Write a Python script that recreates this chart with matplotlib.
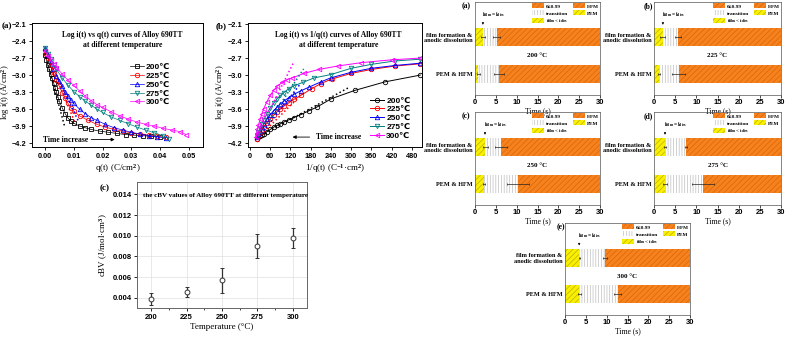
import matplotlib
matplotlib.use('Agg')
import matplotlib.pyplot as plt
from matplotlib.patches import Patch

plt.rcParams['font.family'] = ['Liberation Serif', 'DejaVu Serif']
plt.rcParams['font.weight'] = 'bold'
plt.rcParams['mathtext.fontset'] = 'custom'
plt.rcParams['mathtext.rm'] = 'Liberation Serif:bold'
plt.rcParams['mathtext.it'] = 'Liberation Serif:bold'
plt.rcParams['mathtext.bf'] = 'Liberation Serif:bold'
plt.rcParams['hatch.linewidth'] = 0.45
plt.rcParams['axes.linewidth'] = 0.7

SANS = ['Liberation Sans', 'DejaVu Sans']

# ---- log i(t) vs q(t) ----
q_200 = [0, 0.0005, 0.001, 0.0015, 0.002, 0.0025, 0.003, 0.0035, 0.004, 0.0045, 0.005, 0.006, 0.007,
         0.008, 0.009, 0.010, 0.012, 0.014, 0.016, 0.019, 0.022, 0.025, 0.028, 0.031, 0.034, 0.037, 0.040]
li_200 = [-2.65, -2.73, -2.82, -2.90, -2.98, -3.06, -3.14, -3.22, -3.30, -3.38, -3.46, -3.58, -3.68,
          -3.76, -3.81, -3.85, -3.90, -3.93, -3.96, -3.99, -4.01, -4.03, -4.05, -4.06, -4.07, -4.08, -4.09]
q_225 = [0, 0.0005, 0.001, 0.002, 0.003, 0.004, 0.005, 0.006, 0.007, 0.008, 0.009, 0.010, 0.012,
         0.015, 0.018, 0.021, 0.024, 0.027, 0.030, 0.033, 0.036, 0.039, 0.042]
li_225 = [-2.56, -2.62, -2.69, -2.82, -2.96, -3.09, -3.20, -3.31, -3.41, -3.50, -3.58, -3.64, -3.72,
          -3.80, -3.87, -3.92, -3.96, -3.99, -4.02, -4.04, -4.06, -4.08, -4.10]
q_250 = [0, 0.001, 0.002, 0.003, 0.004, 0.005, 0.006, 0.007, 0.008, 0.009, 0.010, 0.012, 0.014,
         0.016, 0.018, 0.021, 0.024, 0.027, 0.030, 0.033, 0.036, 0.039, 0.042]
li_250 = [-2.52, -2.64, -2.77, -2.90, -3.01, -3.11, -3.20, -3.29, -3.37, -3.44, -3.50, -3.60, -3.68,
          -3.75, -3.80, -3.87, -3.93, -3.97, -4.01, -4.04, -4.07, -4.09, -4.11]
q_275 = [0, 0.001, 0.002, 0.003, 0.004, 0.006, 0.008, 0.010, 0.012, 0.014, 0.016, 0.018, 0.020,
         0.023, 0.026, 0.029, 0.032, 0.035, 0.038, 0.041, 0.043]
li_275 = [-2.52, -2.62, -2.72, -2.82, -2.90, -3.05, -3.18, -3.29, -3.38, -3.46, -3.53, -3.60, -3.66,
          -3.74, -3.80, -3.86, -3.92, -3.97, -4.02, -4.07, -4.12]
q_300 = [0, 0.001, 0.002, 0.003, 0.004, 0.006, 0.008, 0.010, 0.012, 0.014, 0.016, 0.018, 0.020,
         0.023, 0.026, 0.029, 0.032, 0.035, 0.038, 0.041, 0.044, 0.047, 0.049]
li_300 = [-2.57, -2.66, -2.74, -2.81, -2.87, -2.98, -3.09, -3.18, -3.28, -3.37, -3.45, -3.52, -3.57,
          -3.65, -3.72, -3.78, -3.83, -3.87, -3.90, -3.94, -3.97, -4.00, -4.05]
# dotted linear fits of the early part
fitq_x = [[0.0, 0.0068], [0.002, 0.0105], [0.004, 0.0115]]
fitq_y = [[-2.62, -3.90], [-2.80, -3.85], [-3.00, -3.80]]

# ---- log i(t) vs 1/q(t) ----
iq_200 = [20, 25, 30, 35, 40, 50, 60, 70, 80, 90, 100, 115, 130, 150, 175, 200, 240, 311, 400, 505]
lb_200 = [-4.12, -4.10, -4.08, -4.06, -4.04, -4.00, -3.96, -3.92, -3.89, -3.86, -3.83, -3.79, -3.75,
          -3.70, -3.63, -3.56, -3.42, -3.27, -3.12, -3.00]
iq_225 = [20, 25, 30, 35, 40, 50, 60, 70, 80, 90, 100, 115, 130, 150, 183, 210, 242, 300, 360, 430, 505]
lb_225 = [-4.12, -4.07, -4.02, -3.97, -3.92, -3.84, -3.77, -3.71, -3.65, -3.60, -3.55, -3.49, -3.43,
          -3.36, -3.24, -3.15, -3.07, -2.97, -2.90, -2.84, -2.80]
iq_250 = [20, 25, 30, 35, 40, 50, 60, 70, 80, 90, 100, 115, 130, 150, 176, 210, 239, 300, 360, 430, 505]
lb_250 = [-4.10, -4.04, -3.98, -3.92, -3.87, -3.78, -3.70, -3.63, -3.57, -3.51, -3.46, -3.40, -3.34,
          -3.28, -3.21, -3.12, -3.05, -2.95, -2.88, -2.83, -2.79]
iq_275 = [20, 25, 30, 35, 40, 50, 60, 70, 80, 90, 100, 115, 130, 156, 190, 240, 300, 360, 430, 505]
lb_275 = [-4.08, -4.00, -3.93, -3.86, -3.80, -3.68, -3.58, -3.50, -3.42, -3.36, -3.31, -3.24, -3.19,
          -3.13, -3.05, -2.99, -2.88, -2.81, -2.75, -2.72]
iq_300 = [18, 20, 22, 25, 30, 35, 40, 50, 60, 70, 80, 95, 110, 125, 160, 204, 260, 330, 420, 505]
lb_300 = [-4.10, -4.02, -3.95, -3.88, -3.78, -3.69, -3.60, -3.47, -3.36, -3.27, -3.20, -3.13, -3.08,
          -3.05, -2.97, -2.90, -2.84, -2.78, -2.73, -2.70]
fitb_x = [[23, 296], [25, 160], [25, 150], [25, 159], [18, 128]]
fitb_y = [[-4.10, -3.21], [-4.10, -3.30], [-4.10, -3.15], [-4.10, -2.89], [-4.10, -2.79]]

# ---- cBV ----
cbv_temp = [200, 225, 250, 275, 300]
cbv_val = [0.00388, 0.00455, 0.0057, 0.0090, 0.0098]
cbv_err = [0.00058, 0.0005, 0.0012, 0.0012, 0.00095]

# ---- time partition bars (s) ----
bar_panels = ['(a)', '(b)', '(c)', '(d)', '(e)']
bar_temps = ['200 °C', '225 °C', '250 °C', '275 °C', '300 °C']
ff_equal = [1.9, 2.1, 2.4, 2.6, 3.4]        # i_film = i_diss
ff_equal_err = [0.5, 0.6, 0.6, 0.2, 0.15]
ff_theta = [5.2, 5.7, 6.3, 7.6, 9.6]        # theta reaches 0.99
ff_theta_err = [0.8, 0.7, 1.4, 0.3, 0.5]
pem_end = [0.8, 1.1, 2.1, 2.6, 3.4]
pem_end_err = [0.3, 0.2, 0.2, 0.5, 0.4]
hfm_start = [5.7, 5.8, 10.3, 11.5, 12.6]
hfm_start_err = [1.2, 1.5, 2.7, 2.6, 0.9]

temps = ['200℃', '225℃', '250℃', '275℃', '300℃']
line_colors = ['black', 'red', 'blue', '#008080', 'magenta']
markers = ['s', 'o', '^', 'v', '<']

ORANGE, ORANGE_H = '#F5821F', '#D86400'
YELLOW, YELLOW_H = '#F8F000', '#B8A800'
TRANS_H = '#B8B8B8'

W, H = 787, 341
fig = plt.figure(figsize=(W / 100, H / 100), dpi=100)


def px_axes(l, t, r, b):
    return fig.add_axes([l / W, 1 - b / H, (r - l) / W, (b - t) / H])


def sans_ticks(ax, size):
    for lab in ax.get_xticklabels() + ax.get_yticklabels():
        lab.set_fontfamily(SANS)
        lab.set_fontweight('bold')
        lab.set_fontsize(size)


def curve_axes(ax):
    ax.tick_params(direction='out', length=2.5, width=0.6, pad=1.5)
    ax.tick_params(which='minor', direction='out', length=1.5, width=0.5)


# (a) log i vs q
ax = px_axes(32, 23, 203, 147)
for x, y, c, m, t in zip([q_200, q_225, q_250, q_275, q_300], [li_200, li_225, li_250, li_275, li_300],
                         line_colors, markers, temps):
    ax.plot(x, y, '-', color=c, lw=0.5, marker=m, ms=3.2, mfc='none', mew=0.6, label=t)
for fx, fy, c in zip(fitq_x, fitq_y, line_colors[:3]):
    ax.plot(fx, fy, ':', color=c, lw=1.1)
ax.set_xlim(-0.0045, 0.0549)
ax.set_ylim(-4.27, -2.08)
ax.set_xticks([0.0, 0.01, 0.02, 0.03, 0.04, 0.05])
ax.set_xticklabels(['0.00', '0.01', '0.02', '0.03', '0.04', '0.05'])
ax.set_yticks([-2.1, -2.4, -2.7, -3.0, -3.3, -3.6, -3.9, -4.2])
curve_axes(ax)
sans_ticks(ax, 5.3)
ax.set_xlabel('q(t) (C/cm$^2$)', fontsize=6.5, labelpad=2)
ax.set_ylabel('log i(t) (A/cm$^2$)', fontsize=6.2)
ax.yaxis.set_label_coords(-0.118, 0.44)
ax.text(0.53, 0.86, 'Log i(t) vs q(t) curves of Alloy 690TT\nat different temperature',
        transform=ax.transAxes, ha='center', va='center', fontsize=5.5, linespacing=1.3)
ax.legend(loc='upper left', bbox_to_anchor=(0.55, 0.71), frameon=False, handlelength=1.6,
          handletextpad=0.3, labelspacing=0.12, borderpad=0,
          prop={'family': SANS, 'weight': 'bold', 'size': 6})
ax.text(0.065, 0.06, 'Time increase', transform=ax.transAxes, ha='left', va='center', fontsize=5.5)
ax.annotate('', xy=(0.5, 0.06), xytext=(0.33, 0.06), xycoords='axes fraction',
            arrowprops=dict(arrowstyle='-|>', lw=0.6, color='black', mutation_scale=5))
fig.text(2 / W, 1 - 26 / H, '(a)', fontsize=6.5, ha='left', va='center')

# (b) log i vs 1/q
ax = px_axes(248, 23, 422, 147)
for x, y, c, m, t in zip([iq_200, iq_225, iq_250, iq_275, iq_300], [lb_200, lb_225, lb_250, lb_275, lb_300],
                         line_colors, ['o', 'o', '^', 'v', '<'], temps):
    ax.plot(x, y, '-', color=c, lw=0.7, marker=m, ms=3.2, mfc='none', mew=0.6, label=t)
for fx, fy, c in zip(fitb_x, fitb_y, line_colors):
    ax.plot(fx, fy, ':', color=c, lw=1.1)
ax.set_xlim(-6, 510)
ax.set_ylim(-4.27, -2.08)
ax.set_xticks(range(0, 481, 60))
ax.set_yticks([-2.1, -2.4, -2.7, -3.0, -3.3, -3.6, -3.9, -4.2])
curve_axes(ax)
sans_ticks(ax, 5.3)
ax.set_xlabel('1/q(t) (C$^{-1}$·cm$^2$)', fontsize=6.5, labelpad=2)
ax.set_ylabel('log i(t) (A/cm$^2$)', fontsize=6.2)
ax.yaxis.set_label_coords(-0.118, 0.44)
ax.text(0.52, 0.86, 'Log i(t) vs 1/q(t) curves of Alloy 690TT\nat different temperature',
        transform=ax.transAxes, ha='center', va='center', fontsize=5.5, linespacing=1.3)
ax.legend(loc='upper left', bbox_to_anchor=(0.68, 0.44), frameon=False, handlelength=1.6,
          handletextpad=0.3, labelspacing=0.12, borderpad=0,
          prop={'family': SANS, 'weight': 'bold', 'size': 6})
ax.text(0.39, 0.08, 'Time increase', transform=ax.transAxes, ha='left', va='center', fontsize=5.5)
ax.annotate('', xy=(0.24, 0.08), xytext=(0.37, 0.08), xycoords='axes fraction',
            arrowprops=dict(arrowstyle='-|>', lw=0.6, color='black', mutation_scale=5))
fig.text(227 / W, 1 - 26 / H, '(b)', fontsize=6.5, ha='right', va='center')

# (c) cBV vs temperature
ax = px_axes(137, 182, 307, 308)
ax.errorbar(cbv_temp, cbv_val, yerr=cbv_err, fmt='o', color='#333333', ms=3.5, mfc='white',
            mew=0.7, elinewidth=0.9, capsize=1.5, capthick=0.7)
ax.set_xlim(190, 310)
ax.set_ylim(0.0030, 0.0152)
ax.set_xticks(cbv_temp)
ax.set_xticks([212.5, 237.5, 262.5, 287.5], minor=True)
ax.set_yticks([0.004, 0.006, 0.008, 0.010, 0.012, 0.014])
ax.grid(True, color='#E0E0E0', lw=0.5)
ax.set_axisbelow(True)
for s in ax.spines.values():
    s.set_color('#666666')
curve_axes(ax)
sans_ticks(ax, 5.5)
ax.set_xlabel('Temperature (°C)', fontsize=6.5, labelpad=2)
ax.set_ylabel('cBV (J/mol·cm$^3$)', fontsize=6.5, labelpad=2)
ax.text(0.52, 0.89, 'the cBV values of Alloy 690TT at different temperature', transform=ax.transAxes,
        ha='center', va='center', fontsize=5)
fig.text(100 / W, 1 - 188 / H, '(c)', fontsize=6.5, va='center')

# time partition bars
bar_boxes = [(475, 2, 600, 95), (654, 2, 781, 95), (475, 112, 600, 205), (654, 112, 781, 205),
             (565, 223, 690, 315)]
label_offsets = [13, 10, 13, 10, 8]
legend_handles = [
    Patch(facecolor=ORANGE, edgecolor=ORANGE_H, hatch='//////', lw=0, label='θ≥0.99'),
    Patch(facecolor='white', edgecolor=TRANS_H, hatch='||||||', lw=0, label='transition'),
    Patch(facecolor=YELLOW, edgecolor=YELLOW_H, hatch='//////', lw=0,
          label='$\\mathregular{i_{film} < i_{diss}}$'),
    Patch(facecolor=ORANGE, edgecolor=ORANGE_H, hatch='//////', lw=0, label='HFM'),
    Patch(facecolor=YELLOW, edgecolor=YELLOW_H, hatch='//////', lw=0, label='PEM'),
]
for i, box in enumerate(bar_boxes):
    ax = px_axes(*box)
    ax.patch.set_alpha(0)  # keep the "Time (s)" label above visible
    hb = 0.5
    # upper row: film formation & anodic dissolution
    ax.barh(1, ff_equal[i], left=0, height=hb, color=YELLOW, edgecolor=YELLOW_H, hatch='//////', lw=0)
    ax.barh(1, ff_theta[i] - ff_equal[i], left=ff_equal[i], height=hb, color='white',
            edgecolor=TRANS_H, hatch='||||||', lw=0)
    ax.barh(1, 30 - ff_theta[i], left=ff_theta[i], height=hb, color=ORANGE, edgecolor=ORANGE_H,
            hatch='//////', lw=0)
    # lower row: PEM & HFM
    ax.barh(0, pem_end[i], left=0, height=hb, color=YELLOW, edgecolor=YELLOW_H, hatch='//////', lw=0)
    ax.barh(0, hfm_start[i] - pem_end[i], left=pem_end[i], height=hb, color='white',
            edgecolor=TRANS_H, hatch='||||||', lw=0)
    ax.barh(0, 30 - hfm_start[i], left=hfm_start[i], height=hb, color=ORANGE, edgecolor=ORANGE_H,
            hatch='//////', lw=0)
    ax.errorbar([ff_equal[i], ff_theta[i]], [1, 1], xerr=[ff_equal_err[i], ff_theta_err[i]], fmt='none',
                ecolor='#222222', elinewidth=0.5, capsize=1.0, capthick=0.5)
    ax.errorbar([pem_end[i], hfm_start[i]], [0, 0], xerr=[pem_end_err[i], hfm_start_err[i]], fmt='none',
                ecolor='#222222', elinewidth=0.5, capsize=1.0, capthick=0.5)
    ax.annotate('', xy=(ff_equal[i], 1.27), xytext=(ff_equal[i], 1.47),
                arrowprops=dict(arrowstyle='-|>', lw=0.4, color='black', mutation_scale=3))
    ax.text(ff_equal[i] - 0.3, 1.5, '$\\mathregular{i_{film}=i_{diss}}$', fontsize=4, ha='left', va='bottom')
    ax.text(15, 0.5, bar_temps[i], fontsize=5, ha='center', va='center')
    ax.set_xlim(0, 30)
    ax.set_ylim(-0.58, 1.97)
    ax.set_xticks(range(0, 31, 5))
    ax.set_yticks([0, 1])
    ax.set_yticklabels(['PEM & HFM', 'film formation &\nanodic dissolution'], fontsize=4.5,
                       linespacing=1.1)
    ax.tick_params(axis='y', length=0, pad=2)
    ax.tick_params(axis='x', direction='out', length=2, width=0.5, pad=1)
    for lab in ax.get_xticklabels():
        lab.set_fontfamily(SANS)
        lab.set_fontweight('bold')
        lab.set_fontsize(5.5)
    for s in ax.spines.values():
        s.set_linewidth(0.5)
        s.set_color('#555555')
    ax.set_xlabel('Time (s)', fontsize=5.5, labelpad=0.5)
    ax.legend(handles=legend_handles, loc='upper right', bbox_to_anchor=(1.0, 1.0), ncol=2,
              frameon=False, fontsize=3.8, handlelength=2.3, handleheight=1.1, handletextpad=0.3,
              columnspacing=0.9, labelspacing=0.3, borderaxespad=0.15, borderpad=0.1)
    fig.text((box[0] - label_offsets[i]) / W, 1 - (box[1] + 4) / H, bar_panels[i], fontsize=5.5,
             ha='left', va='center')

fig.savefig('out.png', dpi=100)
